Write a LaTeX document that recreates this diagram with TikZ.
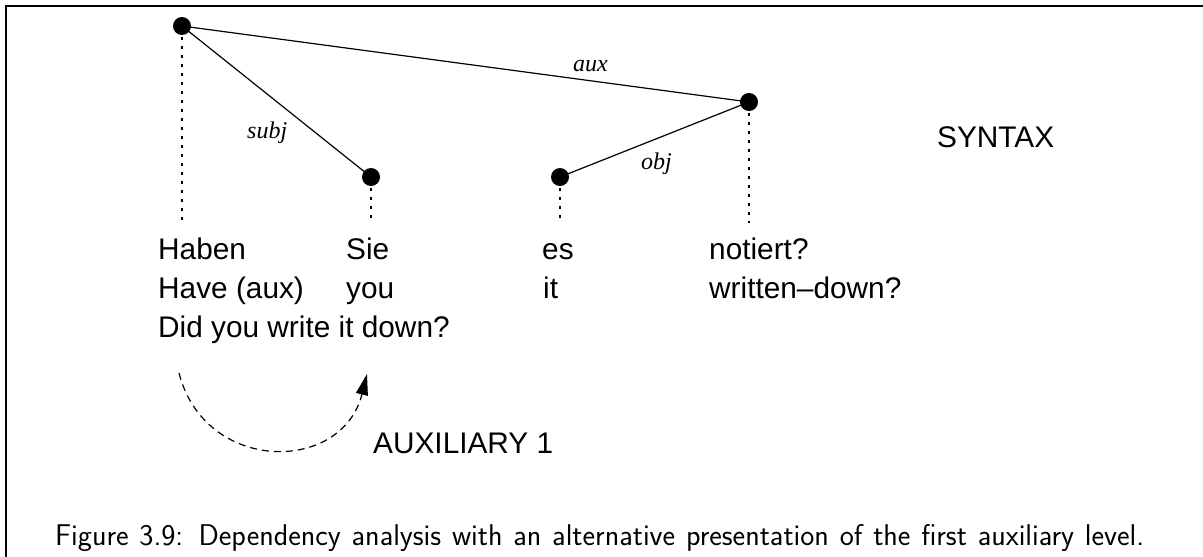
\documentclass[tikz,border=0pt]{standalone}
\usepackage{fontspec}
\newfontfamily\helv{Liberation Sans}
\newfontfamily\tim{Liberation Serif}
\usetikzlibrary{arrows.meta}
\begin{document}
\begin{tikzpicture}[x=1pt,y=-1pt,
  dot/.style={circle,fill=black,inner sep=0pt,minimum size=18pt},
  edge/.style={line width=1.2pt},
  dropline/.style={line width=1.3pt,dash pattern=on 3pt off 6pt},
  word/.style={anchor=base west,inner sep=0pt,font=\helv\fontsize{29.8}{36}\selectfont},
  rel/.style={anchor=base west,inner sep=0pt,font=\tim\itshape\fontsize{24}{29}\selectfont},
  movearrow/.style={line width=1.2pt,dash pattern=on 7pt off 5pt,-{Triangle[length=21pt,width=12pt]}},
  caption/.style={anchor=base west,inner sep=0pt,font=\sffamily\fontsize{30}{36}\selectfont}]
\useasboundingbox (0,0) rectangle (1203,557);
% frame
\draw[line width=2.4pt] (6,560) -- (6,6) -- (1206,6);

% dependency nodes
\node[dot] (haben) at (182,26) {};
\node[dot] (sie) at (371,177) {};
\node[dot] (es) at (560,177) {};
\node[dot] (notiert) at (749,102) {};

% dependency relations
\draw[edge] (haben.center) -- (notiert.center);
\draw[edge] (haben.center) -- (sie.center);
\draw[edge] (es.center) -- (notiert.center);
\node[rel] (aux) at (573,71) {aux};
\node[rel] (subj) at (247,138) {subj};
\node[rel] (obj) at (641,169) {obj};

% projection lines down to the words
\coordinate (wordline) at (0,223);
\draw[dropline] ([yshift=-2pt]haben.south) -- (haben.south |- wordline);
\draw[dropline] ([yshift=-2pt]sie.south) -- (sie.south |- wordline);
\draw[dropline] ([yshift=-2pt]es.south) -- (es.south |- wordline);
\draw[dropline] ([yshift=-2pt]notiert.south) -- (notiert.south |- wordline);

% words and glosses
\node[word] (w1) at (158,259) {Haben};
\node[word] (w2) at (346,259) {Sie};
\node[word] (w3) at (542,259) {es};
\node[word] (w4) at (709,259) {notiert?};
\node[word] (g1) at (158,298) {Have (aux)};
\node[word] (g2) at (346,298) {you};
\node[word] (g3) at (543,298) {it};
\node[word] (g4) at (709,298) {written–down?};
\node[word] (tr) at (158,337) {Did you write it down?};

\node[word] (syntax) at (937,147) {SYNTAX};

% auxiliary movement
\coordinate (mvfrom) at (179,373);
\coordinate (mvto) at (367,374);
\draw[movearrow] (mvfrom) .. controls (205,474) and (342,474) .. (mvto);
\node[word] (auxlevel) at (373,453) {AUXILIARY 1};

% caption, set to the full line width
\node[caption] (cap) at (55,545) {\makebox[1089pt][s]{Figure 3.9: Dependency analysis with an alternative presentation of the first auxiliary level.}};
\end{tikzpicture}
\end{document}
